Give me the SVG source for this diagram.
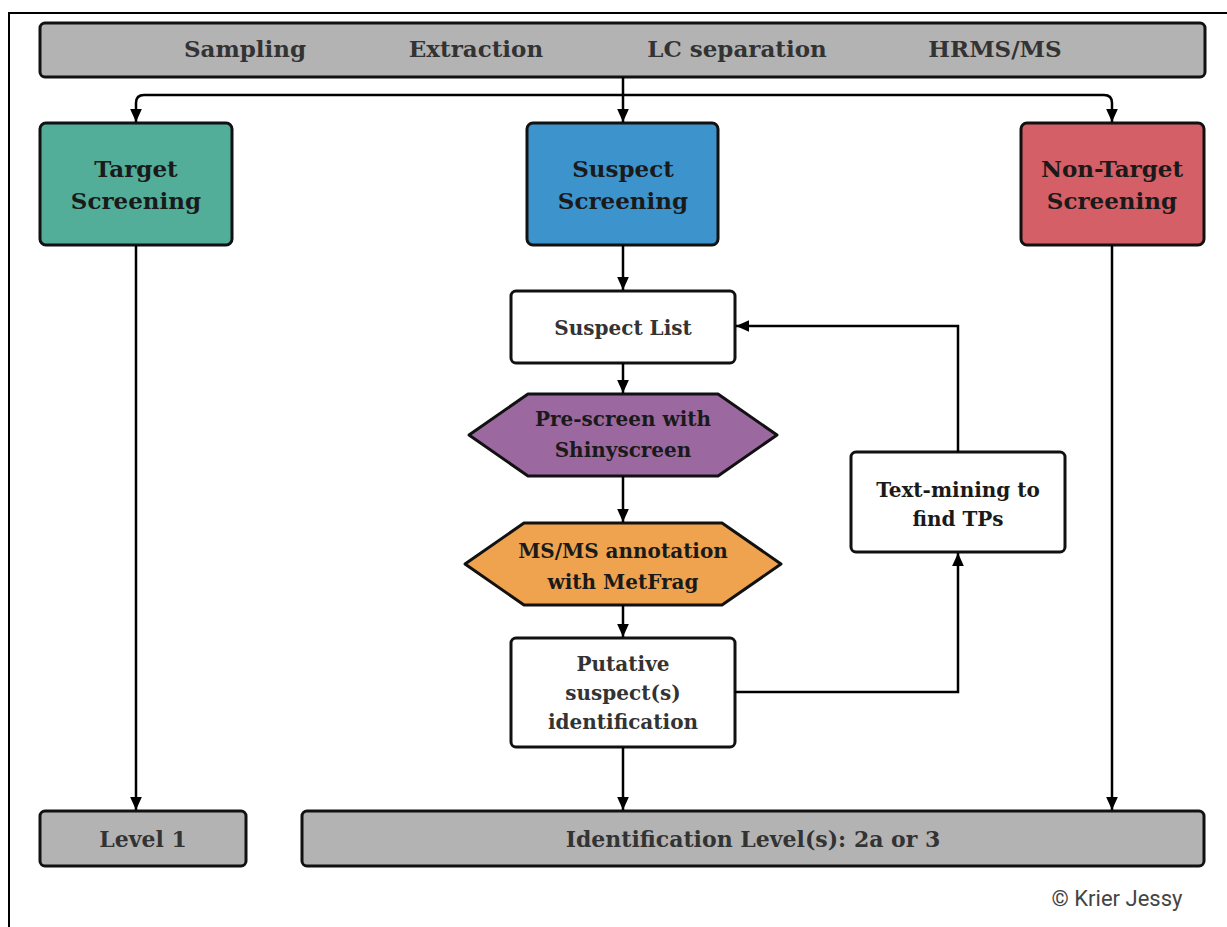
<svg xmlns="http://www.w3.org/2000/svg" width="1227" height="927" viewBox="0 0 1227 927">
<defs>
<marker id="arr" viewBox="0 0 10 10" refX="10" refY="5" markerWidth="13" markerHeight="13" markerUnits="userSpaceOnUse" orient="auto">
<path d="M0,0.5 L10,5 L0,9.5 Z" fill="#000"/>
</marker>
<style>
.box{stroke:#111;stroke-width:3}
.t{font-family:"DejaVu Serif","Liberation Serif",serif;font-weight:bold;text-anchor:middle;fill:#1a1a1a}
.g{fill:#333}
.c{fill:none;stroke:#000;stroke-width:2.5}
</style>
</defs>
<rect width="1227" height="927" fill="#fff"/>
<path d="M9,927 V13 H1227" fill="none" stroke="#000" stroke-width="2"/>

<g id="top">
<rect class="box" x="40" y="23" width="1165" height="54" rx="5" fill="#b3b3b3"/>
<text class="t g" x="245" y="57" font-size="23">Sampling</text>
<text class="t g" x="476" y="57" font-size="23">Extraction</text>
<text class="t g" x="737" y="57" font-size="23">LC separation</text>
<text class="t g" x="995" y="57" font-size="23">HRMS/MS</text>
</g>

<g id="target">
<rect class="box" x="40" y="123" width="192" height="122" rx="6" fill="#52ad99"/>
<text class="t" x="136" y="177" font-size="23">Target</text>
<text class="t" x="136" y="209" font-size="23">Screening</text>
</g>

<g id="suspect">
<rect class="box" x="527" y="123" width="191" height="122" rx="6" fill="#3d94cc"/>
<text class="t" x="623" y="177" font-size="23">Suspect</text>
<text class="t" x="623" y="209" font-size="23">Screening</text>
</g>

<g id="nontarget">
<rect class="box" x="1021" y="123" width="183" height="122" rx="6" fill="#d45f66"/>
<text class="t" x="1112" y="177" font-size="23">Non-Target</text>
<text class="t" x="1112" y="209" font-size="23">Screening</text>
</g>

<g id="suspectlist">
<rect class="box" x="511" y="291" width="224" height="72" rx="5" fill="#fff"/>
<text class="t g" x="623" y="335" font-size="20">Suspect List</text>
</g>

<g id="prescreen">
<polygon class="box" points="469,435 528,394 718,394 777,435 718,476 528,476" fill="#9b69a0" stroke-linejoin="round"/>
<text class="t" x="623" y="426" font-size="20">Pre-screen with</text>
<text class="t" x="623" y="457" font-size="20">Shinyscreen</text>
</g>

<g id="msms">
<polygon class="box" points="465,564 524,523 722,523 781,564 722,605 524,605" fill="#f0a34f" stroke-linejoin="round"/>
<text class="t" x="623" y="558" font-size="20">MS/MS annotation</text>
<text class="t" x="623" y="589" font-size="20">with MetFrag</text>
</g>

<g id="putative">
<rect class="box" x="511" y="638" width="224" height="109" rx="5" fill="#fff"/>
<text class="t g" x="623" y="671" font-size="20">Putative</text>
<text class="t g" x="623" y="700" font-size="20">suspect(s)</text>
<text class="t g" x="623" y="729" font-size="20">identification</text>
</g>

<g id="textmining">
<rect class="box" x="851" y="452" width="214" height="100" rx="5" fill="#fff"/>
<text class="t" x="958" y="497" font-size="20">Text-mining to</text>
<text class="t" x="958" y="526" font-size="20">find TPs</text>
</g>

<g id="level1">
<rect class="box" x="40" y="811" width="206" height="55" rx="5" fill="#b3b3b3"/>
<text class="t g" x="143" y="847" font-size="22">Level 1</text>
</g>

<g id="identlevel">
<rect class="box" x="302" y="811" width="902" height="55" rx="5" fill="#b3b3b3"/>
<text class="t g" x="753" y="847" font-size="22">Identification Level(s): 2a or 3</text>
</g>

<g id="connectors">
<path class="c" d="M623,77 V95"/>
<path class="c" d="M623,95 H144 Q136,95 136,103 V122" marker-end="url(#arr)"/>
<path class="c" d="M623,95 H1104 Q1112,95 1112,103 V122" marker-end="url(#arr)"/>
<path class="c" d="M623,95 V122" marker-end="url(#arr)"/>
<path class="c" d="M623,245 V290" marker-end="url(#arr)"/>
<path class="c" d="M623,363 V393" marker-end="url(#arr)"/>
<path class="c" d="M623,476 V522" marker-end="url(#arr)"/>
<path class="c" d="M623,605 V637" marker-end="url(#arr)"/>
<path class="c" d="M735,692 H958 V553" marker-end="url(#arr)"/>
<path class="c" d="M958,452 V326 H736" marker-end="url(#arr)"/>
<path class="c" d="M136,245 V810" marker-end="url(#arr)"/>
<path class="c" d="M623,747 V810" marker-end="url(#arr)"/>
<path class="c" d="M1112,245 V810" marker-end="url(#arr)"/>
</g>

<text x="1117" y="906" font-family="Roboto, 'Liberation Sans', sans-serif" font-size="22" fill="#444" text-anchor="middle">© Krier Jessy</text>
</svg>
